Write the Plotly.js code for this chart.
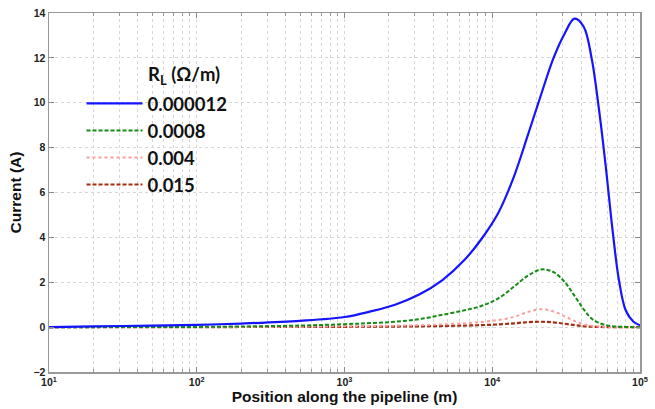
<!DOCTYPE html>
<html>
<head>
<meta charset="utf-8">
<script src="https://cdn.plot.ly/plotly-3.0.1.min.js"></script>
<style>html,body{margin:0;padding:0;background:#fff;}#chart{width:655px;height:409px;}</style>
</head>
<body>
<div id="chart"></div>
<script>
const position = [10, 20, 50, 100, 200, 500, 1000, 1500, 2200, 3200, 4600, 6500, 8500, 11000, 14000, 17500, 21500, 26000, 31000, 36000, 41500, 47000, 53000, 59000, 65000, 72000, 80000, 90000, 100000];
const seriesNames = ['0.000012', '0.0008', '0.004', '0.015'];
const current_000012 = [0.0, 0.03, 0.07, 0.1, 0.16, 0.28, 0.45, 0.7, 1.0, 1.45, 2.1, 3.0, 3.95, 5.1, 6.7, 8.6, 10.4, 12.0, 13.1, 13.75, 13.4, 12.0, 9.6, 7.0, 4.4, 2.1, 0.75, 0.25, 0.08];
const current_0008 = [0.0, 0.0, 0.005, 0.01, 0.03, 0.07, 0.13, 0.18, 0.24, 0.35, 0.55, 0.75, 0.95, 1.28, 1.8, 2.3, 2.57, 2.45, 2.0, 1.4, 0.8, 0.38, 0.18, 0.09, 0.04, 0.02, 0.01, 0.0, 0.0];
const current_004 = [0.0, 0.0, 0.0, 0.005, 0.01, 0.02, 0.04, 0.05, 0.065, 0.085, 0.12, 0.17, 0.23, 0.32, 0.45, 0.68, 0.8, 0.7, 0.48, 0.28, 0.13, 0.06, 0.03, 0.01, 0.0, 0.0, 0.0, 0.0, 0.0];
const current_015 = [0.0, 0.0, 0.0, 0.0, 0.005, 0.01, 0.015, 0.02, 0.025, 0.035, 0.05, 0.07, 0.09, 0.12, 0.17, 0.22, 0.24, 0.21, 0.15, 0.09, 0.04, 0.02, 0.01, 0.0, 0.0, 0.0, 0.0, 0.0, 0.0];
const xTickVals = [10, 100, 1000, 10000, 100000];
const xTickText = ['10<sup>1</sup>', '10<sup>2</sup>', '10<sup>3</sup>', '10<sup>4</sup>', '10<sup>5</sup>'];
const xMinorVals = [20,30,40,50,60,70,80,90,200,300,400,500,600,700,800,900,2000,3000,4000,5000,6000,7000,8000,9000,20000,30000,40000,50000,60000,70000,80000,90000];
const yTickVals = [-2, 0, 2, 4, 6, 8, 10, 12, 14];

const styles = [
  {color: 'rgb(20,20,255)', width: 2.2, dash: 'solid'},
  {color: 'rgb(20,140,20)', width: 2, dash: '4px,2px'},
  {color: 'rgb(255,155,155)', width: 2, dash: 'dot'},
  {color: 'rgb(165,45,15)', width: 2.2, dash: '4px,2px'}
];
const ys = [current_000012, current_0008, current_004, current_015];
const traces = ys.map((y, i) => ({
  x: position, y: y, type: 'scatter', mode: 'lines', name: seriesNames[i],
  legendgroup: 'g' + i,
  line: Object.assign({shape: 'spline', smoothing: 1.0}, styles[i])
}));
const order = [3, 2, 1, 0];
const data = order.map(i => traces[i]);

const gridCol = 'rgb(215,215,215)';
const tickFont = {family: 'Liberation Sans, Arial', size: 10.5, weight: 'bold', color: '#222'};
const titleFont = {family: 'Liberation Sans, Arial', size: 15.5, weight: 'bold', color: '#111'};
const legendFont = {family: 'Lato, Open Sans, sans-serif', size: 18.5, color: '#111', weight: 'bold'};
const layout = {
  width: 655, height: 409,
  margin: {l: 49, r: 15, t: 13, b: 37},
  paper_bgcolor: '#fff', plot_bgcolor: '#fff',
  font: {family: 'Liberation Sans, Arial, sans-serif', color: '#222'},
  showlegend: true,
  legend: {
    x: 0.055, y: 0.80, xanchor: 'left', yanchor: 'top',
    bgcolor: 'rgba(255,255,255,0)', borderwidth: 0,
    font: legendFont,
    traceorder: 'reversed', tracegroupgap: 4, itemwidth: 56
  },
  xaxis: {
    type: 'log', range: [1, 5],
    tickvals: xTickVals, ticktext: xTickText,
    ticks: 'inside', ticklen: 5, tickcolor: '#888',
    showgrid: true, gridcolor: gridCol, griddash: 'dot', gridwidth: 1,
    minor: {tickvals: xMinorVals, showgrid: true, gridcolor: gridCol, griddash: 'dot', ticks: 'inside', ticklen: 3, tickcolor: '#999'},
    showline: true, linecolor: '#999', linewidth: 1.5, mirror: 'ticks',
    zeroline: false,
    tickfont: tickFont,
    title: {text: 'Position along the pipeline (m)', font: titleFont, standoff: 3}
  },
  yaxis: {
    range: [-2, 14], tickvals: yTickVals,
    ticks: 'inside', ticklen: 5, tickcolor: '#888',
    showgrid: true, gridcolor: gridCol, griddash: 'dot', gridwidth: 1,
    showline: true, linecolor: '#999', linewidth: 1.5, mirror: 'ticks',
    zeroline: false,
    tickfont: tickFont,
    title: {text: 'Current (A)', font: titleFont, standoff: 8}
  },
  shapes: [
    {type: 'rect', xref: 'paper', yref: 'paper', x0: 0.044, x1: 0.396, y0: 0.465, y1: 0.877, fillcolor: '#fff', line: {width: 0}, layer: 'between'},
    {type: 'rect', xref: 'paper', yref: 'paper', x0: 0.155, x1: 0.396, y0: 0.877, y1: 0.958, fillcolor: '#fff', line: {width: 0}, layer: 'between'}
  ],
  annotations: [{
    xref: 'paper', yref: 'paper', x: 0.164, y: 0.827, xanchor: 'left', yanchor: 'middle',
    text: 'R<sub>L</sub> (Ω/m)', showarrow: false,
    font: legendFont
  }]
};
Plotly.newPlot('chart', data, layout, {displayModeBar: false, staticPlot: true});
</script>
</body>
</html>
